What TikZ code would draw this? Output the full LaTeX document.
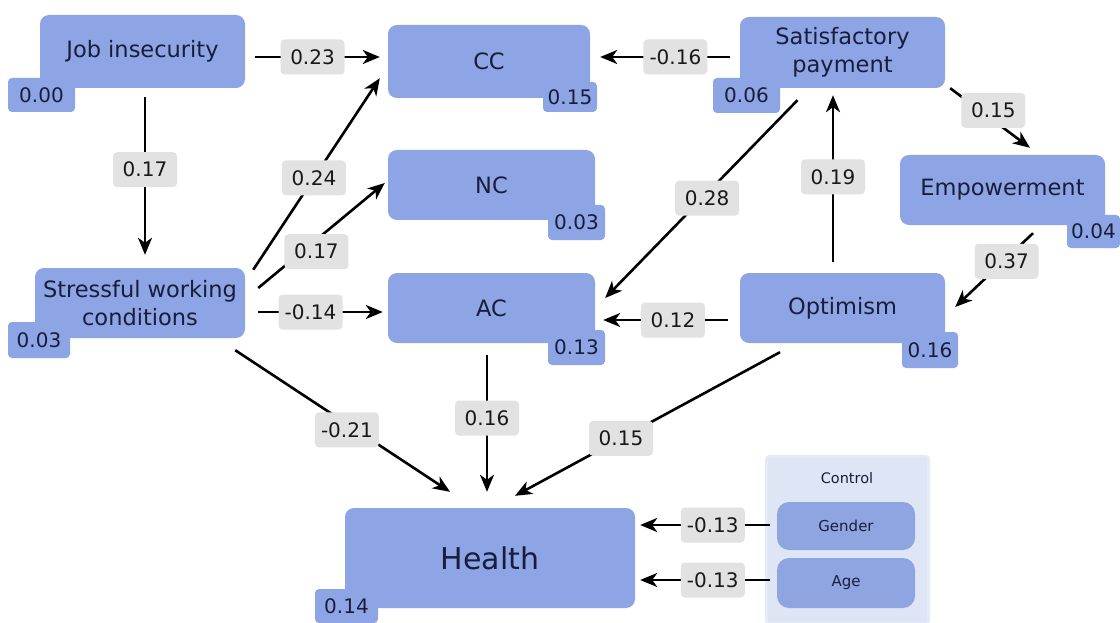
\documentclass[tikz,border=0pt]{standalone}
\usepackage{fontspec}
\setmainfont{DejaVu Sans}
\usetikzlibrary{arrows.meta}
\definecolor{boxblue}{RGB}{141,164,229}
\colorlet{tagblue}{boxblue}
\definecolor{txt}{RGB}{24,30,58}
\definecolor{lblgray}{RGB}{226,226,226}
\definecolor{panel}{RGB}{222,229,245}
\definecolor{pill}{RGB}{143,165,226}
\tikzset{
  mainbox/.style={fill=boxblue, rounded corners=9pt, text=txt, align=center, inner sep=0pt,
    font=\fontsize{22.5}{28}\selectfont},
  tagbox/.style={fill=tagblue, rounded corners=4pt, text=txt, inner sep=0pt,
    font=\fontsize{20}{22}\selectfont},
  lbl/.style={fill=lblgray, rounded corners=4pt, text=black!90, inner sep=0pt,
    minimum width=64pt, minimum height=35pt, font=\fontsize{20}{22}\selectfont},
  arr/.style={line width=2.6pt, -{Stealth[length=17pt,width=14pt,inset=5pt]}},
  pillbox/.style={fill=pill, rounded corners=12pt, text=txt, inner sep=0pt,
    minimum width=138pt, font=\fontsize{15}{18}\selectfont},
}
\begin{document}
\begin{tikzpicture}[x=1pt,y=-1pt]
\useasboundingbox[fill=white] (0,0) rectangle (1120,623);

% control panel
\node[fill=panel, draw=panel!80!white, line width=3pt, rounded corners=3pt, minimum width=162pt, minimum height=167pt, inner sep=0pt] (ctrl) at (847.5,540) {};
\node[text=txt, font=\fontsize{14.5}{16}\selectfont] (ctrltxt) at (847,478) {Control};
\node[pillbox, minimum height=48pt] (gender) at (846,526) {Gender};
\node[pillbox, minimum height=50pt] (age) at (846,583) {Age};

% main boxes
\node[mainbox, minimum width=205pt, minimum height=73pt] (job) at (142.5,51.5) {Job insecurity};
\node[mainbox, minimum width=202pt, minimum height=73pt] (cc) at (489,61.5) {CC};
\node[mainbox, minimum width=205pt, minimum height=71pt] (sat) at (842.5,52.5) {Satisfactory\\payment};
\node[mainbox, minimum width=207pt, minimum height=70pt] (nc) at (491.5,185) {NC};
\node[mainbox, minimum width=205pt, minimum height=70pt] (emp) at (1002.5,190) {Empowerment};
\node[mainbox, minimum width=210pt, minimum height=70pt] (stress) at (140,303) {Stressful working\\conditions};
\node[mainbox, minimum width=207pt, minimum height=70pt] (ac) at (491.5,308) {AC};
\node[mainbox, minimum width=205pt, minimum height=70pt] (opt) at (842.5,308) {Optimism};
\node[mainbox, minimum width=290pt, minimum height=100pt, font=\fontsize{30}{34}\selectfont] (health) at (490,558) {Health};

% R-squared tags
\node[tagbox, minimum width=67pt, minimum height=34pt] (jobr) at (41.5,95) {0.00};
\node[tagbox, minimum width=54pt, minimum height=30pt] (ccr) at (570,97) {0.15};
\node[tagbox, minimum width=67pt, minimum height=35pt] (satr) at (746.5,95.5) {0.06};
\node[tagbox, minimum width=57pt, minimum height=35pt] (ncr) at (576.5,222.5) {0.03};
\node[tagbox, minimum width=53pt, minimum height=33pt] (empr) at (1093.5,231.5) {0.04};
\node[tagbox, minimum width=62pt, minimum height=36pt] (stressr) at (39,340) {0.03};
\node[tagbox, minimum width=57pt, minimum height=35pt] (acr) at (576.5,347.5) {0.13};
\node[tagbox, minimum width=56pt, minimum height=36pt] (optr) at (930,350) {0.16};
\node[tagbox, minimum width=63pt, minimum height=34pt] (healthr) at (346.5,606) {0.14};

% paths
\draw[arr] ([xshift=10pt,yshift=-5.5pt]job.east) -- node[lbl, pos=0.46] (l1) {0.23} ([xshift=-8pt,yshift=4.5pt]cc.west);
\draw[arr] ([xshift=-10pt,yshift=-4.5pt]sat.west) -- node[lbl, pos=0.42] (l2) {-0.16} ([xshift=10pt,yshift=4.5pt]cc.east);
\draw[arr] ([xshift=2.5pt,yshift=-9pt]job.south) -- node[lbl, pos=0.46] (l3) {0.17} ([xshift=5pt,yshift=13pt]stress.north);
\draw[arr] ([xshift=8pt,yshift=-2pt]stress.north east) -- node[lbl, pos=0.48] (l4) {0.24} ([xshift=-8pt,yshift=20pt]cc.south west);
\draw[arr] ([xshift=13pt,yshift=15pt]stress.east) -- node[lbl, pos=0.46, yshift=-12pt] (l5) {0.17} ([xshift=-3pt,yshift=2pt]nc.west);
\draw[arr] ([xshift=13pt,yshift=-9pt]stress.east) -- node[lbl, pos=0.42] (l6) {-0.14} ([xshift=-5pt,yshift=-4pt]ac.west);
\draw[arr] ([xshift=-10pt,yshift=-12pt]stress.south east) -- node[lbl, pos=0.52, yshift=-6pt] (l7) {-0.21} ([xshift=-40pt,yshift=16pt]health.north);
\draw[arr] ([xshift=-45pt,yshift=-12pt]sat.south) -- node[lbl, pos=0.47, yshift=-5pt] (l8) {0.28} ([xshift=10pt,yshift=10pt]ac.east);
\draw[arr] ([xshift=5pt]sat.south east) -- node[lbl, pos=0.54, yshift=10pt] (l9) {0.15} ([xshift=27.5pt,yshift=7pt]emp.north);
\draw[arr] ([xshift=-9.5pt,yshift=11pt]opt.north) -- node[lbl, pos=0.51] (l10) {0.19} ([xshift=-9.5pt,yshift=-7pt]sat.south);
\draw[arr] ([xshift=30.5pt,yshift=-8pt]emp.south) -- node[lbl, pos=0.34, yshift=-3pt] (l11) {0.37} ([xshift=10pt,yshift=1pt]opt.east);
\draw[arr] ([xshift=-12pt,yshift=-12pt]opt.west) -- node[lbl, pos=0.44] (l12) {0.12} ([xshift=8pt,yshift=-12pt]ac.east);
\draw[arr] ([xshift=-4.5pt,yshift=-12pt]ac.south) -- node[lbl, pos=0.46] (l13) {0.16} ([xshift=-3pt,yshift=16pt]health.north);
\draw[arr] ([xshift=-62.5pt,yshift=-9pt]opt.south) -- node[lbl, pos=0.6] (l14) {0.15} ([xshift=25pt,yshift=12pt]health.north);
\draw[arr] ([xshift=-7pt,yshift=1pt]gender.west) -- node[lbl, pos=0.44] (l15) {-0.13} ([xshift=5pt,yshift=33pt]health.east);
\draw[arr] ([xshift=-7pt,yshift=3pt]age.west) -- node[lbl, pos=0.44] (l16) {-0.13} ([xshift=5pt,yshift=-22pt]health.east);
\end{tikzpicture}
\end{document}
